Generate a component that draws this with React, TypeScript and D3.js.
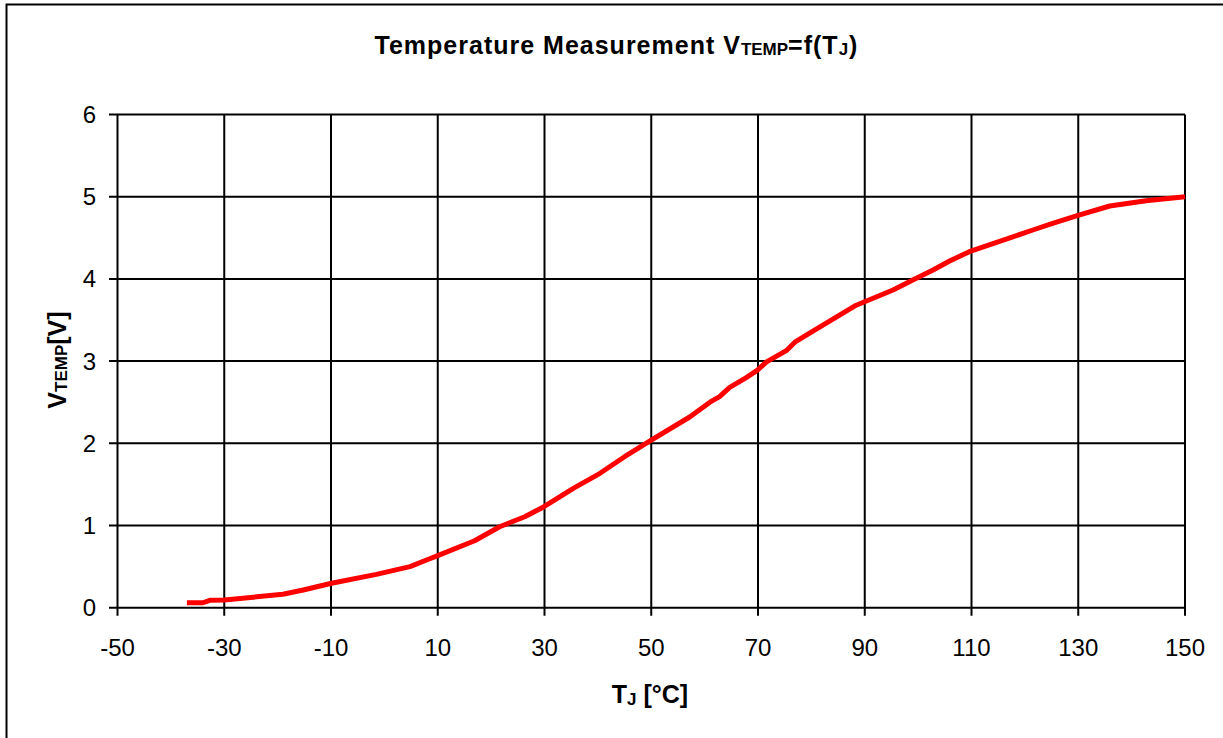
import React from "react";
import * as d3 from "d3";

const tj = [-37, -34, -32.7, -30, -19, -15.2, -9.9, -1.5, 4.8, 7.9, 10, 16.9, 21.6, 26.3, 29.9, 35.4, 40.4, 45, 50, 57.2, 61, 62.8, 64.7, 67.8, 69.9, 71.6, 75.3, 76.9, 80.6, 88.4, 95.3, 99, 102.8, 105.9, 109.6, 121.5, 125.2, 129.8, 135.9, 142.7, 150];
const vtemp = [0.06, 0.06, 0.09, 0.094, 0.163, 0.215, 0.297, 0.406, 0.5, 0.58, 0.633, 0.815, 0.985, 1.107, 1.229, 1.452, 1.635, 1.837, 2.04, 2.32, 2.5, 2.567, 2.68, 2.8, 2.89, 2.99, 3.127, 3.23, 3.378, 3.68, 3.865, 3.987, 4.108, 4.218, 4.331, 4.595, 4.676, 4.77, 4.887, 4.95, 5.0];
const xTicks = [-50, -30, -10, 10, 30, 50, 70, 90, 110, 130, 150];
const yTicks = [0, 1, 2, 3, 4, 5, 6];

export default function App() {
  const W = 1223, H = 738;
  const left = 117.5, right = 1185, top = 114.5, bottom = 607.7;
  const x = d3.scaleLinear().domain([-50, 150]).range([left, right]);
  const y = d3.scaleLinear().domain([0, 6]).range([bottom, top]);
  const pts = tj.map((t, i) => [t, vtemp[i]] as [number, number]);
  const line = d3.line<[number, number]>().x(d => x(d[0])).y(d => y(d[1]));
  const font = "'Liberation Sans', Arial, sans-serif";
  return (
    <svg width={W} height={H} style={{ position: "absolute", left: 0, top: 0, background: "#fff" }} fontFamily={font}>
      <rect x={0} y={0} width={W} height={H} fill="#fff" />
      <rect x={6.5} y={4.5} width={W + 10} height={H + 10} fill="none" stroke="#000" strokeWidth={2} />
      {xTicks.map(t => (
        <line key={"gx" + t} x1={x(t)} x2={x(t)} y1={top} y2={bottom + 8} stroke="#000" strokeWidth={2} />
      ))}
      {yTicks.map(t => (
        <line key={"gy" + t} x1={left - 8.5} x2={right} y1={y(t)} y2={y(t)} stroke="#000" strokeWidth={2} />
      ))}
      {xTicks.map(t => (
        <text key={"lx" + t} x={x(t)} y={656} textAnchor="middle" fontSize={24} fill="#000">{t}</text>
      ))}
      {yTicks.map(t => (
        <text key={"ly" + t} x={96} y={y(t) + 8.5} textAnchor="end" fontSize={24} fill="#000">{t}</text>
      ))}
      <path d={line(pts) || ""} fill="none" stroke="#ff0000" strokeWidth={5} strokeLinejoin="round" />
      <text x={616.5} y={54.3} textAnchor="middle" fontSize={25} fontWeight="bold" fill="#000" letterSpacing={1}>
        Temperature Measurement V<tspan fontSize={17} dy={1} letterSpacing={0}>TEMP</tspan><tspan fontSize={25} dy={-1}>=f(T</tspan><tspan fontSize={17} dy={1}>J</tspan><tspan fontSize={25} dy={-1}>)</tspan>
      </text>
      <text x={650} y={703} textAnchor="middle" fontSize={25} fontWeight="bold" fill="#000">
        T<tspan fontSize={17} dy={2}>J</tspan><tspan fontSize={25} dy={-2}> [°C]</tspan>
      </text>
      <text transform="translate(66,360) rotate(-90)" textAnchor="middle" fontSize={25} fontWeight="bold" fill="#000">
        V<tspan fontSize={17} dy={1}>TEMP</tspan><tspan fontSize={25} dy={-1}>[V]</tspan>
      </text>
    </svg>
  );
}
